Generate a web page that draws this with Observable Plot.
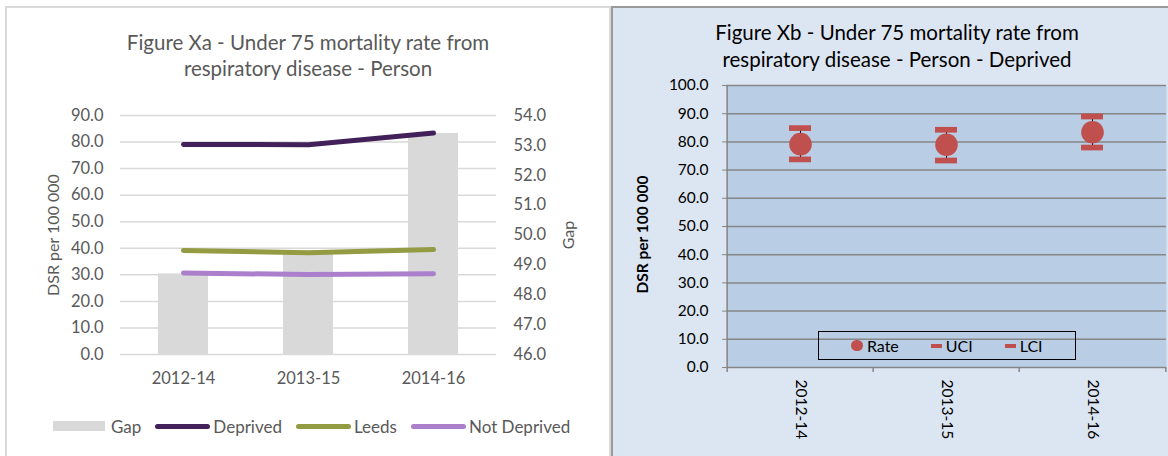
<!DOCTYPE html>
<html><head><meta charset="utf-8">
<script src="https://cdn.jsdelivr.net/npm/d3@7"></script>
<script src="https://cdn.jsdelivr.net/npm/@observablehq/plot@0.6"></script>
<style>
html,body{margin:0;padding:0;}
body{width:1168px;height:456px;overflow:hidden;position:relative;background:#fff;font-family:Lato,"Open Sans",sans-serif;}
.abs{position:absolute;}
#leftPanel{left:5px;top:6px;width:602px;height:480px;border:2px solid #d9d9d9;background:#fff;}
#rightPanel{left:611px;top:6px;width:600px;height:480px;border:2px solid #9a9a9a;background:#dce6f2;}
#leftTitle{left:88px;top:29px;width:440px;text-align:center;font-size:20.5px;line-height:26px;color:#595959;}
#rightTitle{left:677px;top:19px;width:440px;text-align:center;font-size:20.5px;line-height:27px;color:#000;}
#leftLegend{left:53px;top:416px;height:20px;display:flex;align-items:center;font-size:17px;color:#595959;white-space:nowrap;}
#leftLegend .item{display:flex;align-items:center;margin-right:14px;}
#leftLegend .sw{display:inline-block;}
#rightLegend{left:818px;top:331px;width:258px;height:29px;box-sizing:border-box;border:1.5px solid #000;display:flex;align-items:center;justify-content:center;font-size:16px;color:#000;}
#rightLegend .item{display:flex;align-items:center;margin:0 16px;}
#rightLegend .sw{display:inline-block;margin-right:4px;background:#c0504d;}
svg{position:absolute;}
</style></head><body>
<div id="leftPanel" class="abs"></div>
<div id="rightPanel" class="abs"></div>
<div id="leftTitle" class="abs"></div>
<div id="rightTitle" class="abs"></div>
<div id="leftLegend" class="abs"></div>
<div id="rightLegend" class="abs"></div>
<script>
// ---- data ----
const periods = ["2012-14", "2013-15", "2014-16"];
const gap = [48.7, 49.4, 53.4];
const deprived = [79.1, 79.0, 83.4];
const leeds = [39.2, 38.3, 39.5];
const notDeprived = [30.7, 30.1, 30.4];
const rate = [79.2, 79.0, 83.4];
const uci = [84.9, 84.3, 89.0];
const lci = [73.8, 73.4, 78.0];
const leftTicks = [0, 10, 20, 30, 40, 50, 60, 70, 80, 90];
const gapTicks = [46, 47, 48, 49, 50, 51, 52, 53, 54];
const rateTicks = [0, 10, 20, 30, 40, 50, 60, 70, 80, 90, 100];
const lineSeries = ["Deprived", "Leeds", "Not Deprived"];
const leftLegendNames = ["Gap", "Deprived", "Leeds", "Not Deprived"];
const rightLegendNames = ["Rate", "UCI", "LCI"];
const leftTitleLines = ["Figure Xa - Under 75 mortality rate from", "respiratory disease - Person"];
const rightTitleLines = ["Figure Xb - Under 75 mortality rate from", "respiratory disease - Person - Deprived"];
const yLabel = "DSR per 100 000";
const gapLabel = "Gap";

// ---- styles ----
const FONT = "Lato, 'Open Sans', sans-serif";
const lineColors = ["#42215a", "#939b43", "#ab7fcc"];
const gapColor = "#d9d9d9";
const red = "#c0504d";

// ---- tables ----
const gapRows = periods.map((p, i) => ({period: p, gap: gap[i]}));
const seriesValues = [deprived, leeds, notDeprived];
const lineRows = lineSeries.flatMap((s, k) => periods.map((p, i) => ({series: s, period: p, value: seriesValues[k][i]})));
const rateRows = periods.map((p, i) => ({period: p, rate: rate[i], uci: uci[i], lci: lci[i]}));

// titles
document.getElementById("leftTitle").innerHTML = leftTitleLines.join("<br>");
document.getElementById("rightTitle").innerHTML = rightTitleLines.join("<br>");

// ---- left chart (three overlaid layers) ----
const L = {width: 611, height: 400, marginLeft: 120, marginRight: 115, marginTop: 115, marginBottom: 46};
const xBand = {type: "band", domain: periods, paddingInner: 0.6, paddingOuter: 0.3};
const styleL = {fontFamily: FONT, fontSize: "16.5px", color: "#595959", background: "transparent", overflow: "visible"};

const layerGrid = Plot.plot({
  ...L, style: styleL,
  x: {...xBand},
  y: {domain: [0, 90]},
  marks: [
    Plot.gridY(leftTicks, {stroke: "#d9d9d9", strokeOpacity: 1, strokeWidth: 1.5}),
    Plot.axisY(leftTicks, {tickSize: 0, tickPadding: 17, tickFormat: d => d.toFixed(1), label: null}),
    Plot.axisX({tickSize: 0, tickPadding: 18, label: null}),
    Plot.text([yLabel], {frameAnchor: "left", textAnchor: "middle", rotate: -90, dx: -67, fill: "#595959", fontSize: 16})
  ]
});
const layerBars = Plot.plot({
  ...L, style: styleL,
  x: {...xBand, axis: null},
  y: {domain: [46, 54]},
  marks: [
    Plot.barY(gapRows, {x: "period", y1: 46, y2: "gap", fill: gapColor}),
    Plot.axisY(gapTicks, {anchor: "right", tickSize: 0, tickPadding: 17, tickFormat: d => d.toFixed(1), label: null}),
    Plot.text([gapLabel], {frameAnchor: "right", textAnchor: "middle", rotate: -90, dx: 72, fill: "#595959", fontSize: 16})
  ]
});
const layerLines = Plot.plot({
  ...L, style: styleL,
  x: {...xBand, axis: null},
  y: {domain: [0, 90], axis: null},
  color: {domain: lineSeries, range: lineColors},
  marks: [
    Plot.line(lineRows, {x: "period", y: "value", z: "series", stroke: "series", strokeWidth: 5, strokeLinecap: "round", strokeLinejoin: "round"})
  ]
});
for (const s of [layerGrid, layerBars, layerLines]) {
  s.style.left = "0px"; s.style.top = "0px";
  document.body.appendChild(s);
}

// ---- right chart ----
const R = {width: 556, height: 456, marginLeft: 114, marginRight: 2, marginTop: 85, marginBottom: 89};
const step = (R.width - R.marginLeft - R.marginRight) / periods.length;
const frameH = R.height - R.marginTop - R.marginBottom;
const axisGray = "#868686";
const rightChart = Plot.plot({
  ...R,
  style: {fontFamily: FONT, fontSize: "15.5px", color: "#000", background: "transparent", overflow: "visible"},
  x: {type: "band", domain: periods, padding: 0},
  y: {domain: [0, 100]},
  marks: [
    Plot.frame({fill: "#b9cde5", stroke: null}),
    Plot.gridY(rateTicks, {stroke: axisGray, strokeOpacity: 1, strokeWidth: 1.5}),
    Plot.axisY(rateTicks, {tickSize: 4, tickPadding: 14, stroke: axisGray, tickFormat: d => d.toFixed(1), label: null}),
    Plot.ruleX([periods[0]], {dx: -step / 2, stroke: axisGray, strokeWidth: 1.5}),
    Plot.ruleX(periods, {dx: -step / 2, insetTop: frameH, insetBottom: -5, stroke: axisGray, strokeWidth: 1.5}),
    Plot.ruleX([periods[periods.length - 1]], {dx: step / 2, insetTop: frameH, insetBottom: -5, stroke: axisGray, strokeWidth: 1.5}),
    Plot.axisX({tickSize: 0, tickRotate: 90, tickPadding: 12, label: null}),
    Plot.ruleX(rateRows, {x: "period", y1: "lci", y2: "uci", stroke: "#000", strokeWidth: 1}),
    Plot.tickY(rateRows, {x: "period", y: "uci", stroke: red, strokeWidth: 5.7, insetLeft: 62, insetRight: 62}),
    Plot.tickY(rateRows, {x: "period", y: "lci", stroke: red, strokeWidth: 5.7, insetLeft: 62, insetRight: 62}),
    Plot.dot(rateRows, {x: "period", y: "rate", r: 11.3, fill: red}),
    Plot.text([yLabel], {frameAnchor: "left", textAnchor: "middle", rotate: -90, dx: -83, dy: 8, fontWeight: "bold", fill: "#000"})
  ]
});
rightChart.style.left = "612px"; rightChart.style.top = "0px";
document.body.appendChild(rightChart);
// keep legend above chart
document.body.appendChild(document.getElementById("rightLegend"));

// ---- legends ----
const ll = document.getElementById("leftLegend");
leftLegendNames.forEach((name, i) => {
  const item = document.createElement("span"); item.className = "item";
  const sw = document.createElement("span"); sw.className = "sw";
  if (i === 0) { sw.style.cssText = `width:52px;height:10px;background:${gapColor};margin-right:6px;`; }
  else { sw.style.cssText = `width:55px;height:5px;border-radius:3px;background:${lineColors[i - 1]};margin-right:3px;`; }
  item.appendChild(sw); item.appendChild(document.createTextNode(name));
  ll.appendChild(item);
});
const rl = document.getElementById("rightLegend");
rightLegendNames.forEach((name, i) => {
  const item = document.createElement("span"); item.className = "item";
  const sw = document.createElement("span"); sw.className = "sw";
  if (i === 0) sw.style.cssText += "width:11.5px;height:11.5px;border-radius:50%;";
  else sw.style.cssText += "width:11px;height:4px;";
  item.appendChild(sw); item.appendChild(document.createTextNode(name));
  rl.appendChild(item);
});
</script>
</body></html>
